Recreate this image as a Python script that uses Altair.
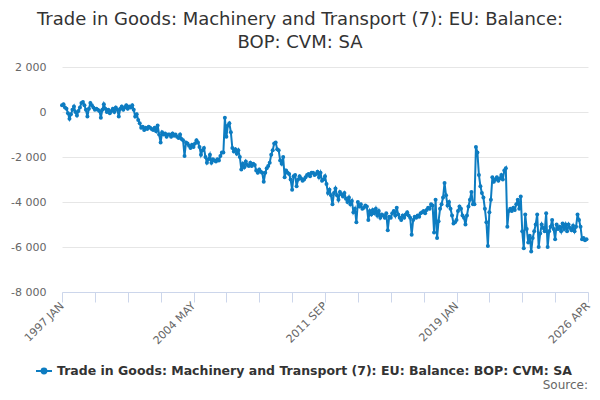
import pandas as pd
import altair as alt

# Monthly values, one list per year (1997 JAN .. 2026 APR)
y1997 = [300, 350, 200, 150, -50, -300, -100, 100, 250, 0, -150, 50]
y1998 = [200, 400, 450, 300, 100, -200, 150, 400, 300, 200, 100, 150]
y1999 = [100, 50, -250, 100, 350, 150, 0, 100, -50, 50, 150, 0]
y2000 = [200, 100, -200, 150, 250, 100, 200, 300, 150, 250, 200, 300]
y2001 = [100, -200, -100, -350, -500, -700, -650, -800, -700, -750, -650, -700]
y2002 = [-750, -800, -700, -850, -600, -1000, -1350, -900, -1000, -950, -1100, -1000]
y2003 = [-1000, -1100, -950, -1050, -1000, -1100, -1150, -1000, -1200, -1250, -1950, -1350]
y2004 = [-1400, -1500, -1600, -1450, -1550, -1400, -1250, -1350, -1550, -1900, -1700, -1600]
y2005 = [-2000, -2250, -2100, -1900, -2250, -2100, -2150, -2200, -2100, -2150, -1950, -1800]
y2006 = [-1800, -250, -1100, -600, -500, -900, -1600, -1750, -1650, -1850, -1700, -2000]
y2007 = [-2550, -2300, -2450, -2200, -2350, -2400, -2250, -2400, -2300, -2350, -2600, -2700]
y2008 = [-2550, -2650, -2700, -3100, -2700, -2500, -2400, -2250, -1900, -1700, -1400, -1350]
y2009 = [-1650, -1700, -2150, -2300, -2000, -2900, -2600, -2700, -2750, -3000, -3450, -2850]
y2010 = [-2800, -3300, -3000, -2850, -2950, -3050, -3000, -2900, -2800, -2750, -2850, -2700]
y2011 = [-2700, -2800, -2750, -2650, -2900, -2700, -3050, -3000, -2850, -3200, -3600, -3450]
y2012 = [-3700, -4100, -3600, -3400, -3700, -3900, -3550, -3650, -3750, -3600, -3850, -4000]
y2013 = [-3800, -4100, -3950, -4450, -4300, -4900, -4000, -4200, -4100, -4300, -4250, -4150]
y2014 = [-4200, -4800, -4400, -4550, -4350, -4500, -4300, -4600, -4400, -4700, -4550, -4600]
y2015 = [-4700, -4500, -5250, -4650, -4700, -4500, -4400, -4600, -4250, -4550, -4700, -4800]
y2016 = [-4600, -4700, -4550, -4450, -4600, -4700, -5450, -4800, -4650, -4700, -4600, -4650]
y2017 = [-4500, -4450, -4400, -4500, -4350, -4250, -4300, -4100, -4150, -5350, -3900, -5600]
y2018 = [-4850, -4300, -4100, -3800, -3150, -3700, -4150, -4000, -4300, -4600, -4950, -4900]
y2019 = [-4800, -4400, -4200, -4300, -4600, -4700, -5000, -4600, -4200, -3900, -3550, -4100]
y2020 = [-4100, -1550, -1800, -2800, -3300, -3600, -3800, -4300, -4900, -5950, -4450, -3900]
y2021 = [-2900, -3100, -3000, -2900, -3050, -2950, -2800, -3000, -2600, -2500, -5100, -4400]
y2022 = [-4300, -4400, -4250, -4350, -4100, -3900, -4300, -3750, -5300, -6050, -4550, -5200]
y2023 = [-5800, -5500, -6200, -5600, -5300, -5000, -4550, -6000, -5400, -5000, -5150, -5300]
y2024 = [-4500, -6000, -5300, -5100, -4800, -5200, -5650, -5000, -5200, -5100, -5300, -4950]
y2025 = [-5200, -5000, -5300, -5000, -5150, -5250, -5050, -5300, -5100, -4550, -4800, -5100]
y2026 = [-5650, -5600, -5700, -5650]

years = [y1997, y1998, y1999, y2000, y2001, y2002, y2003, y2004, y2005, y2006,
         y2007, y2008, y2009, y2010, y2011, y2012, y2013, y2014, y2015, y2016,
         y2017, y2018, y2019, y2020, y2021, y2022, y2023, y2024, y2025, y2026]
values = [v for yr in years for v in yr]

series_name = "Trade in Goods: Machinery and Transport (7): EU: Balance: BOP: CVM: SA"

tick_idx = [0, 88, 176, 264, 352]
tick_text = ["1997 JAN", "2004 MAY", "2011 SEP", "2019 JAN", "2026 APR"]

df = pd.DataFrame({
    "idx": list(range(len(values))),
    "value": values,
    "series": series_name,
})

blue = "#0d7cc1"

label_expr = "".join(f"datum.value == {i} ? '{t}' : " for i, t in zip(tick_idx, tick_text)) + "''"

line = (
    alt.Chart(df)
    .mark_line(strokeWidth=2, point=alt.OverlayMarkDef(filled=True, size=16))
    .encode(
        x=alt.X(
            "idx:Q",
            title=None,
            scale=alt.Scale(domain=[0, 352], nice=False, zero=False),
            axis=alt.Axis(
                values=list(range(0, 353, 22)),
                labelExpr=label_expr,
                labelAngle=-45,
                labelAlign="right",
                labelBaseline="middle",
                labelFlush=False,
                labelOverlap=False,
                labelPadding=2,
                labelFontSize=11,
                labelColor="#666666",
                grid=False,
                domainColor="#ccd6eb",
                tickColor="#ccd6eb",
                tickSize=10,
            ),
        ),
        y=alt.Y(
            "value:Q",
            title=None,
            scale=alt.Scale(domain=[-8000, 2000], nice=False),
            axis=alt.Axis(
                values=[-8000, -6000, -4000, -2000, 0, 2000],
                labelExpr="(datum.value < 0 ? '-' : '') + replace(format(abs(datum.value), ',d'), ',', ' ')",
                labelPadding=16,
                labelFontSize=11,
                labelColor="#666666",
                domain=False,
                ticks=False,
                gridColor="#e6e6e6",
            ),
        ),
        color=alt.Color(
            "series:N",
            scale=alt.Scale(range=[blue]),
            legend=alt.Legend(
                title=None,
                orient="none",
                legendX=-27,
                legendY=295,
                labelFontSize=12.5,
                labelFontWeight="bold",
                labelColor="#333333",
                labelLimit=0,
                symbolType="M-1,0H1M0.3,0A0.3,0.3,0,1,1,-0.3,0A0.3,0.3,0,1,1,0.3,0Z",
                symbolSize=256,
                symbolStrokeWidth=2,
                symbolFillColor=blue,
            ),
        ),
    )
)

source = (
    alt.Chart(pd.DataFrame({"t": ["Source:"]}))
    .mark_text(align="right", baseline="bottom", fontSize=12, color="#666666")
    .encode(x=alt.value(526), y=alt.value(325), text="t:N")
)

chart = (
    alt.layer(line, source)
    .properties(
        width=526,
        height=225,
        padding={"left": 54, "top": 59, "right": 4, "bottom": 100},
        autosize=alt.AutoSizeParams(type="none"),
        title=alt.TitleParams(
            ["Trade in Goods: Machinery and Transport (7): EU: Balance:", "BOP: CVM: SA"],
            fontSize=18,
            fontWeight="normal",
            color="#333333",
            anchor="middle",
            lineHeight=23,
            offset=9,
            dx=-25,
        ),
    )
    .configure(font="DejaVu Sans")
    .configure_view(stroke=None)
)

chart.save("out.html", embed_options={"renderer": "svg", "actions": False})
